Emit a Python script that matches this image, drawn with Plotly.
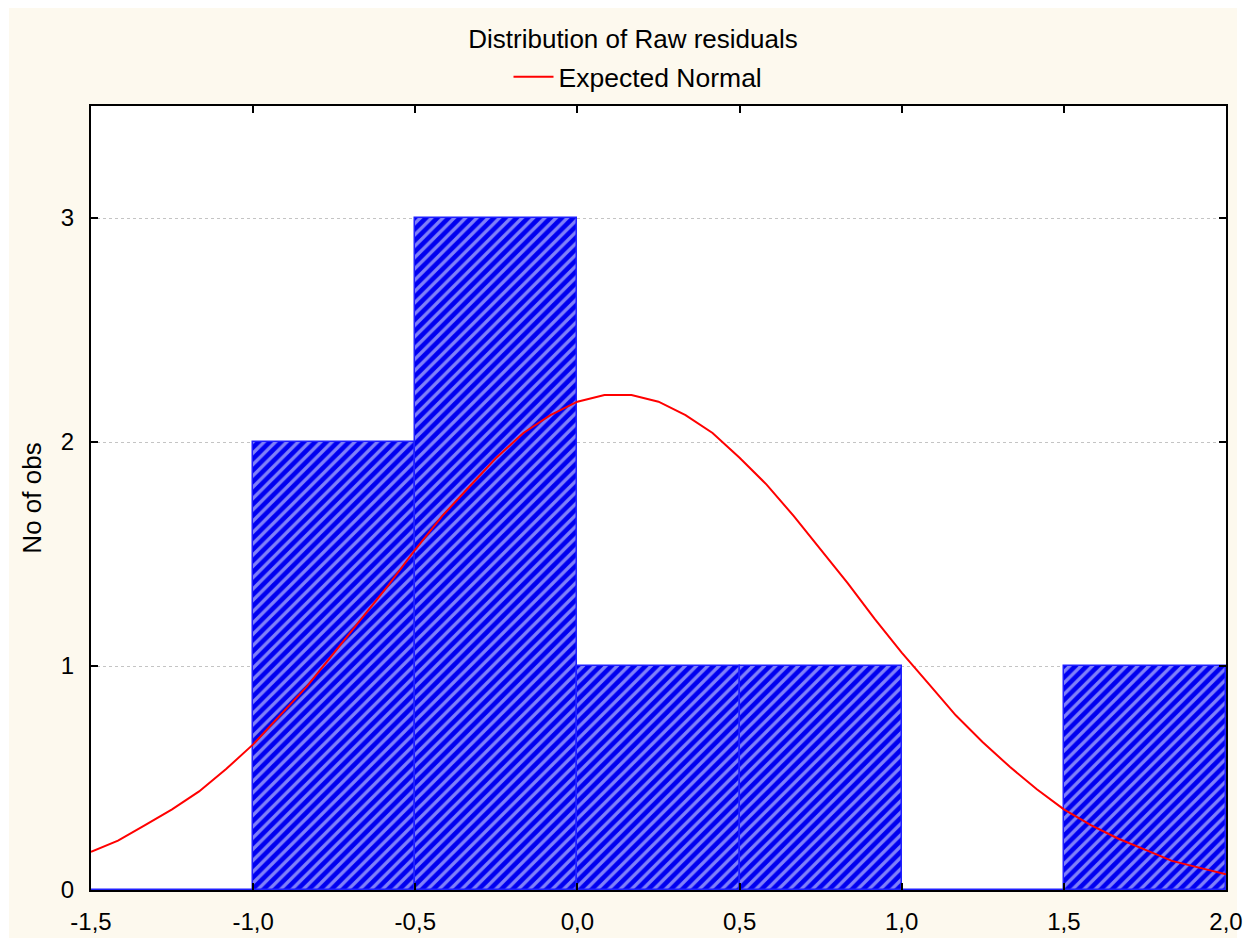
import plotly.graph_objects as go

# ---- data ----
bin_centers = [-1.25, -0.75, -0.25, 0.25, 0.75, 1.25, 1.75]
bin_counts = [0, 2, 3, 1, 1, 0, 1]
bin_width = 0.5

curve_x = [-1.5 + k / 12 for k in range(43)]
curve_y = [0.17, 0.22, 0.29, 0.36, 0.44, 0.54, 0.65, 0.78, 0.91, 1.06, 1.21,
           1.36, 1.52, 1.67, 1.80, 1.93, 2.04, 2.12, 2.18, 2.21, 2.21, 2.18,
           2.12, 2.04, 1.93, 1.81, 1.67, 1.52, 1.37, 1.21, 1.06, 0.92, 0.78,
           0.66, 0.55, 0.45, 0.36, 0.29, 0.23, 0.18, 0.13, 0.10, 0.07]

x_tickvals = [-1.5, -1.0, -0.5, 0.0, 0.5, 1.0, 1.5, 2.0]
x_ticktext = ["-1,5", "-1,0", "-0,5", "0,0", "0,5", "1,0", "1,5", "2,0"]
y_tickvals = [0, 1, 2, 3]
y_ticktext = ["0", "1", "2", "3"]

title_text = "Distribution of Raw residuals"
legend_name = "Expected Normal"
y_title = "No of obs"

# ---- geometry (pixels) ----
W, H = 1246, 938
L, R, T, B = 91, 1226, 106, 890
pw, ph = R - L, B - T


def px_x(p):
    return (p - L) / pw


def px_y(p):
    return (B - p) / ph


FONT = "Liberation Sans, Arial, sans-serif"
BLUE = "#0000f0"

fig = go.Figure()
fig.add_trace(go.Bar(
    x=bin_centers, y=bin_counts, width=[bin_width] * len(bin_centers),
    marker=dict(
        color=BLUE,
        line=dict(color="#2020ff", width=1.5),
        pattern=dict(shape="/", fgcolor="white", bgcolor=BLUE,
                     size=8, solidity=0.42, fillmode="overlay"),
    ),
    showlegend=False, hoverinfo="skip",
))
fig.add_trace(go.Scatter(
    x=curve_x, y=curve_y, mode="lines", name=legend_name,
    line=dict(color="#ff0000", width=2),
))

axis_common = dict(
    showline=True, linecolor="black", linewidth=2, mirror="ticks",
    ticks="inside", ticklen=7, tickwidth=2, tickcolor="black",
    zeroline=False, automargin=False,
    tickfont=dict(family=FONT, size=24, color="black"),
)

fig.update_layout(
    width=W, height=H,
    margin=dict(l=L, r=W - R, t=T, b=H - B, pad=0, autoexpand=False),
    paper_bgcolor="#fdf9ee",
    plot_bgcolor="white",
    bargap=0,
    title=dict(text=title_text, xref="paper", x=px_x(633), xanchor="center",
               yref="container", y=1 - 39 / H, yanchor="middle",
               font=dict(family=FONT, size=26, color="black")),
    legend=dict(orientation="h", x=px_x(638), xanchor="center",
                y=px_y(77), yanchor="middle", bgcolor="rgba(0,0,0,0)",
                font=dict(family=FONT, size=26.5, color="black"),
                itemwidth=40),
    xaxis=dict(range=[-1.5, 2.0], tickvals=x_tickvals, ticktext=x_ticktext,
               showgrid=False, ticklabelstandoff=9, **axis_common),
    yaxis=dict(range=[0, 3.5], tickvals=y_tickvals, ticktext=y_ticktext,
               showgrid=True, gridcolor="#c4c4c4", gridwidth=1, griddash="dot",
               ticklabelstandoff=10,
               title=dict(text=y_title, standoff=12,
                          font=dict(family=FONT, size=26, color="black")),
               **axis_common),
    shapes=[
        dict(type="rect", xref="paper", yref="paper", layer="below",
             x0=px_x(0), x1=px_x(W), y0=px_y(8), y1=px_y(0),
             fillcolor="white", line=dict(width=0)),
        dict(type="rect", xref="paper", yref="paper", layer="below",
             x0=px_x(0), x1=px_x(9), y0=px_y(H), y1=px_y(0),
             fillcolor="white", line=dict(width=0)),
        dict(type="rect", xref="paper", yref="paper", layer="below",
             x0=px_x(1237), x1=px_x(W), y0=px_y(H), y1=px_y(0),
             fillcolor="white", line=dict(width=0)),
    ],
)

fig.write_html("out.html")
